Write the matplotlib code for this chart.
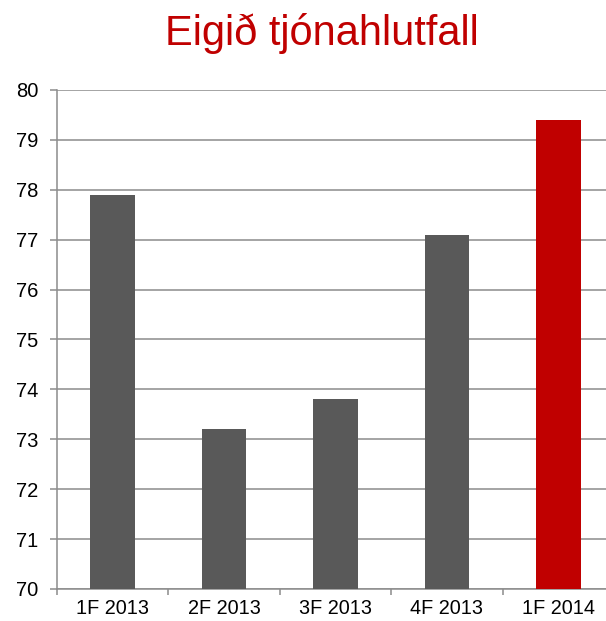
import matplotlib
matplotlib.use("Agg")
import matplotlib.pyplot as plt

categories = ["1F 2013", "2F 2013", "3F 2013", "4F 2013", "1F 2014"]
values = [77.9, 73.2, 73.8, 77.1, 79.4]
bar_colors = ["#595959", "#595959", "#595959", "#595959", "#C00000"]
yticks = [70, 71, 72, 73, 74, 75, 76, 77, 78, 79, 80]
title = "Eigið tjónahlutfall"

plt.rcParams['font.family'] = ['Liberation Sans', 'DejaVu Sans']

W, H = 606, 621
fig = plt.figure(figsize=(W / 100, H / 100), dpi=100)
left, right, top, bottom = 57, 614, 90, 589
ax = fig.add_axes([left / W, (H - bottom) / H, (right - left) / W, (bottom - top) / H])

x = list(range(len(categories)))
ax.bar(x, values, width=0.4, color=bar_colors, zorder=3)
ax.set_xlim(-0.5, len(categories) - 0.5)
ax.set_ylim(70, 80)
ax.set_yticks(yticks)
ax.set_xticks(x)
ax.set_xticklabels(categories, fontsize=14.3)
ax.tick_params(axis='y', labelsize=14.5, length=5, width=1.1, color="#8c8c8c", pad=8.5)
ax.tick_params(axis='x', length=0, pad=7.5)
# category boundary ticks
ax.set_xticks([i - 0.5 for i in range(len(categories) + 1)], minor=True)
ax.tick_params(axis='x', which='minor', length=4, width=1.1, color="#8c8c8c")

ax.grid(axis='y', color="#8c8c8c", linewidth=1.1, zorder=0)
for s in ["top", "right"]:
    ax.spines[s].set_visible(False)
for s in ["left", "bottom"]:
    ax.spines[s].set_color("#8c8c8c")
    ax.spines[s].set_linewidth(1.1)

fig.text(322 / W, 1 - 33 / H, title, color="#C00000", fontsize=30, ha="center", va="center")

fig.savefig("out.png", dpi=100)
